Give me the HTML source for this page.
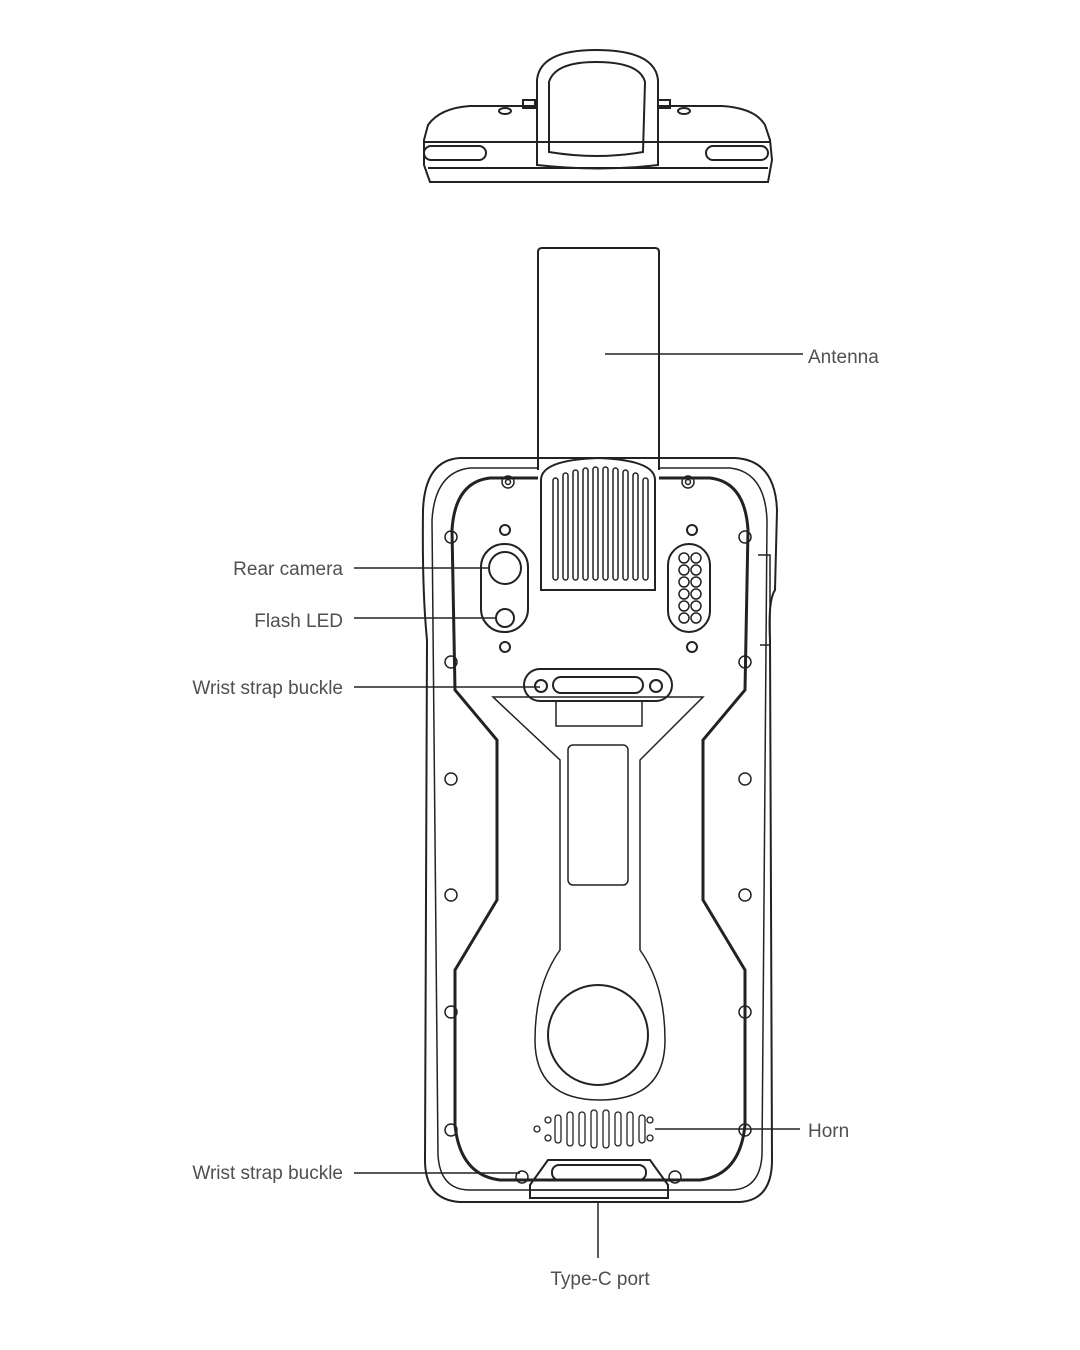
<!DOCTYPE html>
<html><head><style>
body{margin:0;background:#fff;}
svg{display:block}
text{font-family:"Liberation Sans",sans-serif;font-size:19px;fill:#505050}
</style></head><body>
<svg width="1080" height="1350" viewBox="0 0 1080 1350" fill="none" stroke="#222" stroke-width="2">
<!-- top view -->
<path d="M535 106 L470 106 Q440 108 428 125 L424 140 L424 165 L430 182 L768 182 L772 160 L770 140 L765 125 Q755 108 722 106 L658 106"/>
<line x1="424" y1="142" x2="770" y2="142"/>
<line x1="428" y1="168" x2="768" y2="168"/>
<rect x="424" y="146" width="62" height="14" rx="7"/>
<rect x="706" y="146" width="62" height="14" rx="7"/>
<path d="M537 165 L537 80 Q540 50 596 50 Q655 50 658 80 L658 165 Q600 172 537 165 Z"/>
<path d="M549 152 L549 82 Q555 62 596 62 Q640 62 645 82 L643 152 Q597 160 549 152 Z"/>
<rect x="523" y="100" width="12" height="8"/><rect x="658" y="100" width="12" height="8"/>
<ellipse cx="505" cy="111" rx="6" ry="3"/><ellipse cx="684" cy="111" rx="6" ry="3"/>
<!-- antenna -->
<path d="M538 470 L538 252 Q538 248 542 248 L655 248 Q659 248 659 252 L659 470"/>
<!-- phone body -->
<path d="M460 458 L735 458 Q775 460 777 510 L775 590 Q768 600 770 640 L772 1160 Q772 1200 740 1202 L460 1202 Q425 1200 425 1160 L427 640 Q422 590 423 510 Q425 460 460 458 Z"/>
<path d="M470 468 L538 468 M659 468 L730 468 Q765 472 767 520 L762 1155 Q760 1190 730 1190 L470 1190 Q440 1190 438 1155 L432 520 Q435 472 470 468" stroke-width="1.5"/>
<path d="M758 555 L770 555 L770 645 L760 645" stroke-width="1.5"/>
<!-- inner frame -->
<path d="M538 478 L490 478 Q455 482 452 530 L455 690 L497 740 L497 900 L455 970 L455 1125 Q460 1175 500 1180 L700 1180 Q740 1175 745 1125 L745 970 L703 900 L703 740 L745 690 L748 530 Q745 482 710 478 L659 478" stroke-width="3"/>
<!-- grille -->
<path d="M541 590 L541 480 Q541 460 598 458 Q655 460 655 480 L655 590 Z"/>
<g stroke-width="1.5">
<rect x="553" y="478" width="5" height="102" rx="2.5"/><rect x="563" y="473" width="5" height="107" rx="2.5"/>
<rect x="573" y="470" width="5" height="110" rx="2.5"/><rect x="583" y="468" width="5" height="112" rx="2.5"/>
<rect x="593" y="467" width="5" height="113" rx="2.5"/><rect x="603" y="467" width="5" height="113" rx="2.5"/>
<rect x="613" y="468" width="5" height="112" rx="2.5"/><rect x="623" y="470" width="5" height="110" rx="2.5"/>
<rect x="633" y="473" width="5" height="107" rx="2.5"/><rect x="643" y="478" width="5" height="102" rx="2.5"/>
</g>
<!-- camera -->
<rect x="481" y="544" width="47" height="88" rx="23"/>
<circle cx="505" cy="568" r="16"/><circle cx="505" cy="618" r="9"/>
<circle cx="505" cy="530" r="5"/><circle cx="505" cy="647" r="5"/>
<circle cx="692" cy="530" r="5"/><circle cx="692" cy="647" r="5"/>
<rect x="668" y="544" width="42" height="88" rx="21"/>
<g stroke-width="1.5">
<circle cx="684" cy="558" r="5"/><circle cx="696" cy="558" r="5"/><circle cx="684" cy="570" r="5"/><circle cx="696" cy="570" r="5"/>
<circle cx="684" cy="582" r="5"/><circle cx="696" cy="582" r="5"/><circle cx="684" cy="594" r="5"/><circle cx="696" cy="594" r="5"/>
<circle cx="684" cy="606" r="5"/><circle cx="696" cy="606" r="5"/><circle cx="684" cy="618" r="5"/><circle cx="696" cy="618" r="5"/>
</g>
<!-- screws -->
<g stroke-width="1.5">
<circle cx="508" cy="482" r="6"/><circle cx="508" cy="482" r="2.5"/>
<circle cx="688" cy="482" r="6"/><circle cx="688" cy="482" r="2.5"/>
<circle cx="451" cy="537" r="6"/><circle cx="745" cy="537" r="6"/>
<circle cx="451" cy="662" r="6"/><circle cx="745" cy="662" r="6"/>
<circle cx="451" cy="779" r="6"/><circle cx="745" cy="779" r="6"/>
<circle cx="451" cy="895" r="6"/><circle cx="745" cy="895" r="6"/>
<circle cx="451" cy="1012" r="6"/><circle cx="745" cy="1012" r="6"/>
<circle cx="451" cy="1130" r="6"/><circle cx="745" cy="1130" r="6"/>
<circle cx="522" cy="1177" r="6"/><circle cx="675" cy="1177" r="6"/>
</g>
<!-- wrist buckle top -->
<rect x="524" y="669" width="148" height="32" rx="16"/>
<rect x="553" y="677" width="90" height="16" rx="8"/>
<circle cx="541" cy="686" r="6"/><circle cx="656" cy="686" r="6"/>
<!-- central Y piece -->
<path d="M493 697 L703 697 L640 760 L640 950 Q665 985 665 1040 Q665 1100 600 1100 Q535 1100 535 1040 Q535 985 560 950 L560 760 Z" stroke-width="1.5"/>
<rect x="556" y="701" width="86" height="25" stroke-width="1.5"/>
<rect x="568" y="745" width="60" height="140" rx="5" stroke-width="1.5"/>
<circle cx="598" cy="1035" r="50"/>
<!-- horn -->
<g stroke-width="1.3">
<circle cx="537" cy="1129" r="3"/><circle cx="548" cy="1120" r="3"/><circle cx="548" cy="1138" r="3"/>
<rect x="555" y="1115" width="6" height="28" rx="3"/><rect x="567" y="1112" width="6" height="34" rx="3"/>
<rect x="579" y="1112" width="6" height="34" rx="3"/><rect x="591" y="1110" width="6" height="38" rx="3"/>
<rect x="603" y="1110" width="6" height="38" rx="3"/><rect x="615" y="1112" width="6" height="34" rx="3"/>
<rect x="627" y="1112" width="6" height="34" rx="3"/><rect x="639" y="1115" width="6" height="28" rx="3"/>
<circle cx="650" cy="1120" r="3"/><circle cx="650" cy="1138" r="3"/>
</g>
<!-- bottom buckle -->
<path d="M530 1198 L530 1185 L548 1160 L650 1160 L668 1185 L668 1198 Z"/>
<rect x="552" y="1165" width="94" height="15" rx="7"/>
<line x1="530" y1="1190" x2="668" y2="1190" stroke-width="1.5"/>
<!-- leaders -->
<g stroke-width="1.5">
<line x1="605" y1="354" x2="803" y2="354"/>
<line x1="354" y1="568" x2="490" y2="568"/>
<line x1="354" y1="618" x2="497" y2="618"/>
<line x1="354" y1="687" x2="540" y2="687"/>
<line x1="655" y1="1129" x2="800" y2="1129"/>
<line x1="354" y1="1173" x2="520" y2="1173"/>
<line x1="598" y1="1203" x2="598" y2="1258"/>
</g>
</svg>
<svg width="1080" height="1350" style="position:absolute;left:0;top:0">
<text x="808" y="363">Antenna</text>
<text x="343" y="575" text-anchor="end">Rear camera</text>
<text x="343" y="627" text-anchor="end">Flash LED</text>
<text x="343" y="694" text-anchor="end">Wrist strap buckle</text>
<text x="808" y="1137">Horn</text>
<text x="343" y="1179" text-anchor="end">Wrist strap buckle</text>
<text x="600" y="1285" text-anchor="middle">Type-C port</text>
</svg>
</body></html>
